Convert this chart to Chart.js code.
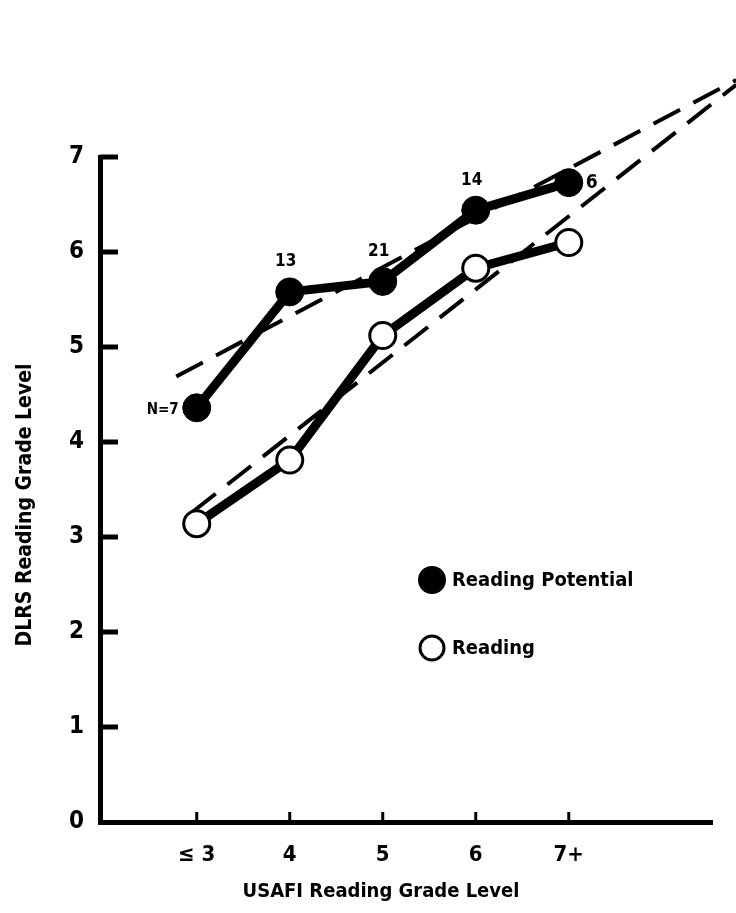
<!DOCTYPE html>
<html>
<head>
<meta charset="utf-8">
<script src="https://cdn.jsdelivr.net/npm/chart.js@4"></script>
<style>
  body { margin: 0; background: #fff; }
</style>
</head>
<body>
<canvas id="c" width="736" height="913"></canvas>
<script>
// USAFI grade groups (x) and DLRS grade level (y)
var gradeX = [3, 4, 5, 6, 7];
var xTickLabels = ['\u2264 3', '4', '5', '6', '7+'];
var potential = [4.36, 5.58, 5.69, 6.44, 6.73];
var reading = [3.14, 3.81, 5.12, 5.83, 6.10];
var groupN = ['N=7', '13', '21', '14', '6'];

// fitted dashed trend lines (end points)
var trendPotential = [[2.78, 4.69], [8.80, 7.81]];
var trendReading = [[2.95, 3.26], [8.80, 7.76]];

var FONT = "'DejaVu Sans Condensed', sans-serif";

function pts(xs, ys) {
  return xs.map(function (x, i) { return { x: x, y: ys[i] }; });
}
function pairs(p) {
  return p.map(function (d) { return { x: d[0], y: d[1] }; });
}

// inward tick marks, axis titles, point counts and the legend
var extras = {
  id: 'extras',
  afterDatasetsDraw: function (chart) {
    var ctx = chart.ctx, xs = chart.scales.x, ys = chart.scales.y;
    ctx.save();
    ctx.strokeStyle = '#000';
    ctx.lineCap = 'butt';
    ctx.lineWidth = 5;
    for (var v = 1; v <= 7; v++) {
      var py = ys.getPixelForValue(v);
      ctx.beginPath();
      ctx.moveTo(xs.left, py);
      ctx.lineTo(xs.left + 18, py);
      ctx.stroke();
    }
    ctx.lineWidth = 3;
    gradeX.forEach(function (g) {
      var px = xs.getPixelForValue(g);
      ctx.beginPath();
      ctx.moveTo(px, ys.bottom);
      ctx.lineTo(px, ys.bottom - 10);
      ctx.stroke();
    });

    ctx.fillStyle = '#000';
    ctx.textBaseline = 'middle';

    // axis titles
    ctx.font = 'bold 20px ' + FONT;
    ctx.textAlign = 'center';
    ctx.fillText('USAFI Reading Grade Level', 381, 892);
    ctx.save();
    ctx.translate(26, 505);
    ctx.rotate(-Math.PI / 2);
    ctx.font = 'bold 21px ' + FONT;
    ctx.fillText('DLRS Reading Grade Level', 0, 0);
    ctx.restore();

    // group sizes next to the potential points
    var meta = chart.getDatasetMeta(2);
    meta.data.forEach(function (p, i) {
      if (i === 0) {
        ctx.font = 'bold 15px ' + FONT;
        ctx.textAlign = 'right';
        ctx.fillText(groupN[i], p.x - 18, p.y + 2);
      } else if (i === groupN.length - 1) {
        ctx.font = 'bold 19px ' + FONT;
        ctx.textAlign = 'left';
        ctx.fillText(groupN[i], p.x + 17, p.y);
      } else {
        ctx.font = 'bold 17px ' + FONT;
        ctx.textAlign = 'center';
        ctx.fillText(groupN[i], p.x - 4, p.y - 30);
      }
    });

    // legend
    var lx = 432, ly1 = 580, ly2 = 648;
    ctx.beginPath();
    ctx.arc(lx, ly1, 14, 0, Math.PI * 2);
    ctx.fill();
    ctx.beginPath();
    ctx.lineWidth = 3;
    ctx.arc(lx, ly2, 12, 0, Math.PI * 2);
    ctx.stroke();
    ctx.font = 'bold 20px ' + FONT;
    ctx.textAlign = 'left';
    ctx.fillText('Reading Potential', lx + 20, ly1 + 1);
    ctx.fillText('Reading', lx + 20, ly2 + 1);
    ctx.restore();
  }
};

new Chart(document.getElementById('c'), {
  type: 'line',
  data: {
    datasets: [{
      label: 'Potential trend',
      data: pairs(trendPotential),
      borderColor: '#000',
      borderWidth: 4,
      borderDash: [30, 15],
      pointRadius: 0,
      clip: false,
      order: 3
    }, {
      label: 'Reading trend',
      data: pairs(trendReading),
      borderColor: '#000',
      borderWidth: 4,
      borderDash: [30, 15],
      pointRadius: 0,
      clip: false,
      order: 3
    }, {
      label: 'Reading Potential',
      data: pts(gradeX, potential),
      borderColor: '#000',
      borderWidth: 9,
      pointRadius: 14,
      pointBackgroundColor: '#000',
      pointBorderColor: '#000',
      pointBorderWidth: 1,
      clip: false,
      order: 1
    }, {
      label: 'Reading',
      data: pts(gradeX, reading),
      borderColor: '#000',
      borderWidth: 9,
      pointRadius: 13,
      pointBackgroundColor: '#fff',
      pointBorderColor: '#000',
      pointBorderWidth: 3,
      clip: false,
      order: 1
    }]
  },
  options: {
    responsive: false,
    animation: false,
    layout: { padding: { top: 157, right: 24, left: 0, bottom: 0 } },
    plugins: { legend: { display: false }, tooltip: { enabled: false } },
    scales: {
      x: {
        type: 'linear',
        min: 1.96,
        max: 8.54,
        afterFit: function (s) { s.height = 91; },
        afterBuildTicks: function (s) {
          s.ticks = gradeX.map(function (v) { return { value: v }; });
        },
        grid: { display: false, drawTicks: false },
        border: { display: true, color: '#000', width: 5 },
        ticks: {
          color: '#000',
          padding: 20,
          font: { family: FONT, size: 22, weight: 'bold' },
          callback: function (v) { return xTickLabels[gradeX.indexOf(v)]; }
        }
      },
      y: {
        min: 0,
        max: 7,
        afterFit: function (s) { s.width = 100; },
        grid: { display: false, drawTicks: false },
        border: { display: true, color: '#000', width: 5 },
        ticks: {
          stepSize: 1,
          color: '#000',
          padding: 16,
          font: { family: FONT, size: 24, weight: 'bold' }
        }
      }
    }
  },
  plugins: [extras]
});
</script>
</body>
</html>
